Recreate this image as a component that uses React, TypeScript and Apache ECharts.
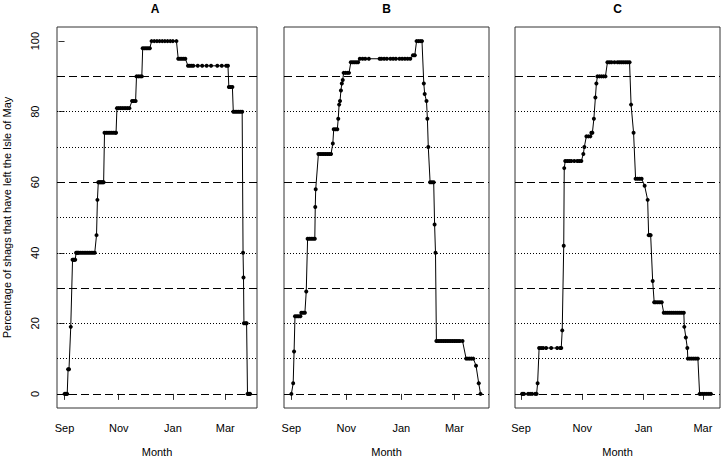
import React, { useEffect, useRef } from "react";
import * as echarts from "echarts";

// days since 1 September
const monthTickDays = [0, 61, 122, 181];
const monthTickLabels = ["Sep", "Nov", "Jan", "Mar"];
const yTicks = [0, 20, 40, 60, 80, 100];
const dashedLevels = [0, 30, 60, 90];
const dottedLevels = [10, 20, 40, 50, 70, 80];
const panelTitles = ["A", "B", "C"];

const daysA = [0, 1, 2, 3, 4, 5, 7, 9, 10, 11, 12, 13, 14, 15, 16, 18, 20, 22, 24, 26, 28, 30, 32, 34, 36, 37, 38, 39, 40, 41, 42, 43, 44, 45, 47, 49, 51, 53, 55, 57, 58, 59, 61, 63, 65, 67, 69, 71, 73, 76, 78, 80, 81, 83, 85, 87, 88, 90, 92, 94, 96, 98, 101, 104, 107, 110, 113, 116, 119, 122, 126, 128, 130, 132, 134, 136, 139, 141, 143, 145, 150, 155, 160, 165, 172, 177, 182, 184, 185, 187, 189, 190, 192, 194, 196, 198, 200, 201, 201.5, 202, 204, 205, 206, 207, 208, 209];
const valsA = [0, 0, 0, 0, 7, 7, 19, 38, 38, 38, 38, 40, 40, 40, 40, 40, 40, 40, 40, 40, 40, 40, 40, 40, 45, 55, 60, 60, 60, 60, 60, 60, 60, 74, 74, 74, 74, 74, 74, 74, 74, 81, 81, 81, 81, 81, 81, 81, 81, 83, 83, 83, 90, 90, 90, 90, 98, 98, 98, 98, 98, 100, 100, 100, 100, 100, 100, 100, 100, 100, 100, 95, 95, 95, 95, 95, 93, 93, 93, 93, 93, 93, 93, 93, 93, 93, 93, 93, 87, 87, 87, 80, 80, 80, 80, 80, 80, 40, 33, 20, 20, 20, 0, 0, 0, 0];

const daysB = [0, 2, 3, 4, 6, 8, 10, 11, 13, 15, 16.5, 18, 20, 22, 24, 26, 26.5, 27, 30, 32, 34, 36, 38, 40, 42, 44, 46, 47, 49, 51, 52, 53, 54, 55, 56, 57, 58, 60, 62, 64, 66, 68, 70, 72, 74, 76, 79, 82, 86, 98, 100, 103, 106, 110, 113, 116, 120, 123, 126, 129, 132, 135, 137, 139, 141, 143, 145, 147, 148, 150, 151, 152, 154, 156, 158, 159, 160, 161, 163, 165, 167, 169, 171, 173, 175, 177, 179, 181, 183, 185, 187, 190, 194, 196, 198, 200, 202, 205, 208, 210];
const valsB = [0, 3, 12, 22, 22, 22, 22, 23, 23, 23, 29, 44, 44, 44, 44, 44, 53, 58, 68, 68, 68, 68, 68, 68, 68, 68, 71, 75, 75, 75, 78, 82, 83, 86, 88, 89, 91, 91, 91, 91, 94, 94, 94, 94, 94, 95, 95, 95, 95, 95, 95, 95, 95, 95, 95, 95, 95, 95, 95, 95, 95, 96, 96, 100, 100, 100, 100, 88, 85, 83, 78, 70, 60, 60, 60, 48, 40, 15, 15, 15, 15, 15, 15, 15, 15, 15, 15, 15, 15, 15, 15, 15, 10, 10, 10, 10, 10, 8, 3, 0];

const daysC = [1, 2, 3, 7, 9, 11, 14, 15.5, 16.5, 18, 20, 22, 25, 30, 36, 39, 40, 41, 42.5, 43, 44, 46, 48, 50, 53, 56, 58, 60, 62, 63, 65, 67, 69, 70, 71, 72.5, 74, 75, 76, 78, 80, 82, 84, 86, 88, 90, 93, 96, 98, 100, 102, 104, 106, 108, 109.5, 112, 114, 116, 118, 120, 123, 126, 127, 128, 129, 131, 132.5, 134, 136, 138, 140, 142, 144, 146, 148, 150, 152, 154, 156, 158, 160, 162, 162.5, 164, 165.5, 166, 168, 170, 172, 174, 176, 177.7, 179, 181, 183, 185, 187, 189];
const valsC = [0, 0, 0, 0, 0, 0, 0, 0, 3, 13, 13, 13, 13, 13, 13, 13, 13, 18, 42, 64, 66, 66, 66, 66, 66, 66, 66, 66, 68, 70, 73, 73, 73, 74, 74, 78, 84, 88, 90, 90, 90, 90, 90, 94, 94, 94, 94, 94, 94, 94, 94, 94, 94, 94, 82, 74, 61, 61, 61, 61, 59, 55, 45, 45, 45, 32, 26, 26, 26, 26, 26, 23, 23, 23, 23, 23, 23, 23, 23, 23, 23, 23, 19, 16, 13, 10, 10, 10, 10, 10, 10, 0, 0, 0, 0, 0, 0, 0];

const FONT = "'Liberation Sans', Arial, sans-serif";

export default function App() {
  const ref = useRef<HTMLDivElement>(null);
  useEffect(() => {
    document.body.style.margin = "0";
    if (!ref.current) return;
    const chart = echarts.init(ref.current, null, { renderer: "svg" });
    const panels = [
      { left: 53, width: 204, xmin: -8.5, xmax: 216.7, days: daysA, vals: valsA },
      { left: 284, width: 205, xmin: -8.2, xmax: 219.4, days: daysB, vals: valsB },
      { left: 515, width: 205, xmin: -6, xmax: 198, days: daysC, vals: valsC },
    ];
    const markData = [
      ...dashedLevels.map((v) => ({ yAxis: v, lineStyle: { type: [8, 4] as any, color: "#000", width: 1 } })),
      ...dottedLevels.map((v) => ({ yAxis: v, lineStyle: { type: [1, 2] as any, color: "#000", width: 1 } })),
    ];
    chart.setOption({
      animation: false,
      backgroundColor: "#fff",
      textStyle: { fontFamily: FONT },
      graphic: panels.map((p, i) => ({
        type: "text",
        x: p.left + p.width / 2,
        y: 9,
        style: {
          text: panelTitles[i],
          textAlign: "center",
          textVerticalAlign: "middle",
          font: `bold 12px ${FONT}`,
          fill: "#000",
        },
      })),
      grid: panels.map((p) => ({
        left: p.left,
        width: p.width,
        top: 27,
        height: 381,
        show: true,
        borderColor: "#333",
        borderWidth: 1,
        backgroundColor: "transparent",
      })),
      xAxis: panels.map((p, i) => ({
        type: "value",
        gridIndex: i,
        min: p.xmin,
        max: p.xmax,
        name: "Month",
        nameLocation: "middle",
        nameGap: 38,
        nameTextStyle: { fontSize: 11, color: "#000", fontFamily: FONT },
        splitLine: { show: false },
        axisLine: { show: false },
        axisTick: { show: true, inside: false, length: 6, customValues: monthTickDays, lineStyle: { color: "#333" } },
        axisLabel: {
          show: true,
          customValues: monthTickDays,
          margin: 14,
          fontSize: 11,
          color: "#000",
          fontFamily: FONT,
          formatter: (v: number) => monthTickLabels[monthTickDays.indexOf(Math.round(v))] ?? "",
        },
      })),
      yAxis: panels.map((p, i) => ({
        type: "value",
        gridIndex: i,
        min: -4,
        max: 104,
        name: i === 0 ? "Percentage of shags that have left the Isle of May" : "",
        nameLocation: "middle",
        nameGap: 45,
        nameTextStyle: { fontSize: 11, color: "#000", fontFamily: FONT },
        splitLine: { show: false },
        axisLine: { show: false },
        axisTick: { show: i === 0, inside: false, length: 6, customValues: yTicks, lineStyle: { color: "#333" } },
        axisLabel: {
          show: i === 0,
          customValues: yTicks,
          rotate: 90,
          margin: 17,
          fontSize: 11,
          color: "#000",
          fontFamily: FONT,
        },
      })),
      series: panels.map((p, i) => ({
        type: "line",
        xAxisIndex: i,
        yAxisIndex: i,
        data: p.days.map((d, k) => [d, p.vals[k]]),
        symbol: "circle",
        symbolSize: 4,
        showAllSymbol: true,
        itemStyle: { color: "#000" },
        lineStyle: { color: "#000", width: 1 },
        markLine: {
          silent: true,
          symbol: ["none", "none"],
          label: { show: false },
          data: markData,
        },
        z: 3,
      })),
    });
    return () => chart.dispose();
  }, []);
  return <div ref={ref} style={{ width: 724, height: 462 }} />;
}
